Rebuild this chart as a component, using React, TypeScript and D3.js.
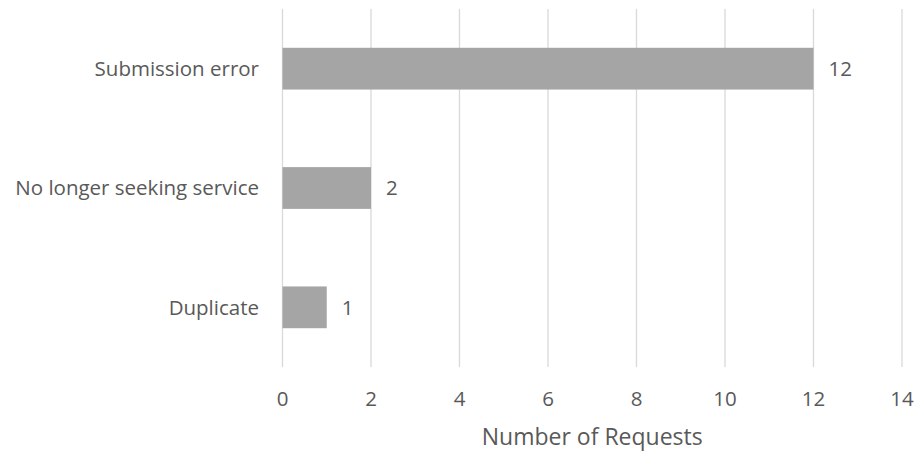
import React from 'react';
import * as d3 from 'd3';

const categories = ['Submission error', 'No longer seeking service', 'Duplicate'];
const requests = [12, 2, 1];
const xTicks = [0, 2, 4, 6, 8, 10, 12, 14];
const xTitle = 'Number of Requests';

const W = 916;
const H = 452;
const FONT = '"Open Sans", sans-serif';
const TEXT = '#595959';

export default function App() {
  const x = d3.scaleLinear().domain([0, 14]).range([282.5, 902]);
  const y = d3.scaleBand().domain(categories).range([9, 367]).paddingInner(0.65).paddingOuter(0.325);

  return (
    <svg width={W} height={H} style={{ position: 'absolute', left: 0, top: 0 }} fontFamily={FONT}>
      <rect width={W} height={H} fill="#fff" />
      {/* gridlines */}
      {xTicks.map(t => (
        <line key={t} x1={x(t)} x2={x(t)} y1={9} y2={367} stroke="#d9d9d9" strokeWidth={1.3} />
      ))}
      {/* bars */}
      {categories.map((c, i) => (
        <rect key={c} x={x(0)} y={y(c)} width={x(requests[i]) - x(0)} height={y.bandwidth()} fill="#a5a5a5" />
      ))}
      {/* value labels */}
      {categories.map((c, i) => (
        <text key={c} x={x(requests[i]) + 15} y={(y(c) ?? 0) + y.bandwidth() / 2} dy="0.35em" fontSize={20.5} fill={TEXT}>
          {requests[i]}
        </text>
      ))}
      {/* category labels */}
      {categories.map(c => (
        <text key={c} x={259} y={(y(c) ?? 0) + y.bandwidth() / 2} dy="0.35em" textAnchor="end" fontSize={20.5} fill={TEXT}>
          {c}
        </text>
      ))}
      {/* x tick labels */}
      {xTicks.map(t => (
        <text key={t} x={x(t)} y={399} dy="0.35em" textAnchor="middle" fontSize={20.5} fill={TEXT}>
          {t}
        </text>
      ))}
      <text x={(x(0) + x(14)) / 2} y={437} dy="0.35em" textAnchor="middle" fontSize={23} fill={TEXT}>
        {xTitle}
      </text>
    </svg>
  );
}
